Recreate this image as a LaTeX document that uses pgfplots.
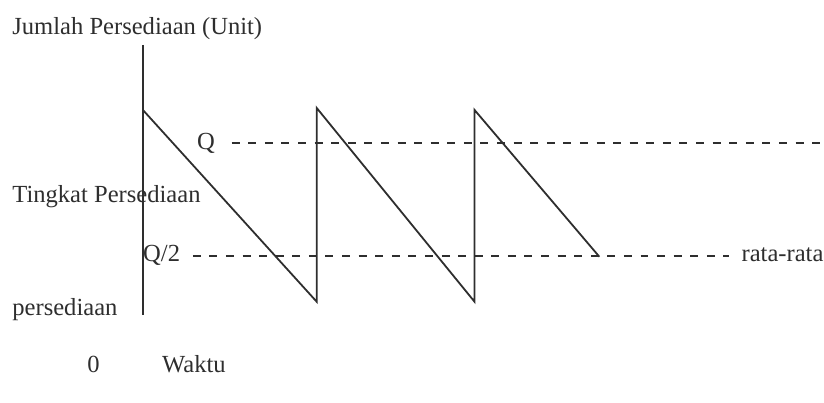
\documentclass[border=0pt]{standalone}
\usepackage{pgfplots}
\pgfplotsset{compat=1.18}
\usepackage{fontspec}
\setmainfont{Liberation Serif}
\definecolor{ink}{HTML}{2E2E2E}
\tikzset{lbl/.style={anchor=base west, inner sep=0pt, text=ink, font=\fontsize{12.3}{14}\selectfont}}

\begin{document}
\begin{tikzpicture}
  \begin{axis}[
      scale only axis, width=412pt, height=201.5pt,
      xmin=0, xmax=824, ymin=0, ymax=403, y dir=reverse,
      hide axis, clip=false,
    ]
    \path (axis cs:0,0) rectangle (axis cs:824,403);
    % sumbu tegak
    \addplot[ink, line width=0.9pt, mark=none] coordinates {(143,45) (143,315)};
    % pola gigi gergaji
    \addplot[ink, line width=0.9pt, mark=none] coordinates {(143,110) (317,302) (317,108) (475,302) (475,110) (600,257)};
    % garis putus-putus Q dan Q/2
    \addplot[ink, line width=0.9pt, mark=none, dash pattern=on 4pt off 4.3pt] coordinates {(232,143) (824,143)};
    \addplot[ink, line width=0.9pt, mark=none, dash pattern=on 4pt off 4.3pt] coordinates {(193,256) (730,256)};
    \node[lbl] at (axis cs:12,35) {Jumlah Persediaan (Unit)};
    \node[lbl] at (axis cs:197,150) {Q};
    \node[lbl] at (axis cs:12,203) {Tingkat Persediaan};
    \node[lbl] at (axis cs:143,262) {Q/2};
    \node[lbl] at (axis cs:742,262) {rata-rata};
    \node[lbl] at (axis cs:12,316) {persediaan};
    \node[lbl] at (axis cs:87,373) {0};
    \node[lbl] at (axis cs:162,373) {Waktu};
  \end{axis}
\end{tikzpicture}
\end{document}
